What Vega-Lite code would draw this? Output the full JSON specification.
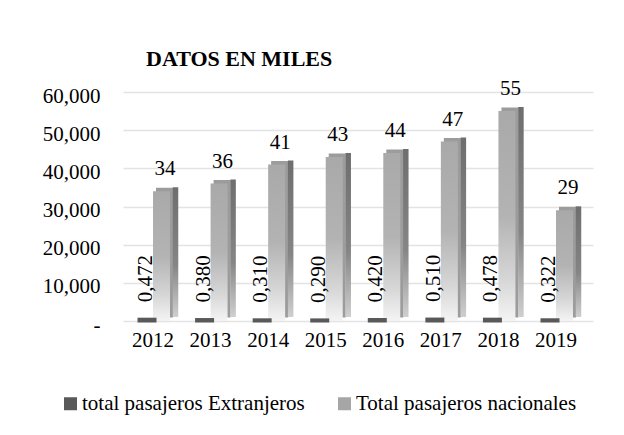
{
  "$schema": "https://vega.github.io/schema/vega-lite/v6.json",
  "autosize": {"type": "none"},
  "padding": {"left": 123, "top": 92, "right": 31, "bottom": 114},
  "width": 470,
  "height": 229,
  "background": "white",
  "config": {
    "font": "Times New Roman, Tinos, Liberation Serif, DejaVu Serif, serif",
    "view": {"stroke": null}
  },
  "title": {
    "text": "DATOS EN MILES",
    "anchor": "start",
    "frame": "group",
    "dx": 23,
    "dy": 35,
    "offset": 25,
    "baseline": "alphabetic",
    "font": "Times New Roman, Tinos, Liberation Serif, DejaVu Serif, serif",
    "fontSize": 22,
    "fontWeight": "bold",
    "color": "#000000"
  },
  "data": {
    "values": [
      {"anio": "2012", "serie": "total pasajeros Extranjeros", "valor": 472, "etiqueta": "0,472"},
      {"anio": "2013", "serie": "total pasajeros Extranjeros", "valor": 380, "etiqueta": "0,380"},
      {"anio": "2014", "serie": "total pasajeros Extranjeros", "valor": 310, "etiqueta": "0,310"},
      {"anio": "2015", "serie": "total pasajeros Extranjeros", "valor": 290, "etiqueta": "0,290"},
      {"anio": "2016", "serie": "total pasajeros Extranjeros", "valor": 420, "etiqueta": "0,420"},
      {"anio": "2017", "serie": "total pasajeros Extranjeros", "valor": 510, "etiqueta": "0,510"},
      {"anio": "2018", "serie": "total pasajeros Extranjeros", "valor": 478, "etiqueta": "0,478"},
      {"anio": "2019", "serie": "total pasajeros Extranjeros", "valor": 322, "etiqueta": "0,322"},
      {"anio": "2012", "serie": "Total pasajeros nacionales", "valor": 34000, "etiqueta": "34"},
      {"anio": "2013", "serie": "Total pasajeros nacionales", "valor": 36000, "etiqueta": "36"},
      {"anio": "2014", "serie": "Total pasajeros nacionales", "valor": 41000, "etiqueta": "41"},
      {"anio": "2015", "serie": "Total pasajeros nacionales", "valor": 43000, "etiqueta": "43"},
      {"anio": "2016", "serie": "Total pasajeros nacionales", "valor": 44000, "etiqueta": "44"},
      {"anio": "2017", "serie": "Total pasajeros nacionales", "valor": 47000, "etiqueta": "47"},
      {"anio": "2018", "serie": "Total pasajeros nacionales", "valor": 55000, "etiqueta": "55"},
      {"anio": "2019", "serie": "Total pasajeros nacionales", "valor": 29000, "etiqueta": "29"}
    ]
  },
  "encoding": {
    "x": {
      "field": "anio",
      "type": "ordinal",
      "title": null,
      "scale": {"paddingInner": 0, "paddingOuter": 0.082, "align": 0.13},
      "axis": {
        "labelAngle": 0,
        "labelFontSize": 21,
        "labelColor": "#000000",
        "labelPadding": 8,
        "ticks": false,
        "domain": false,
        "grid": false
      }
    },
    "y": {
      "field": "valor",
      "type": "quantitative",
      "title": null,
      "scale": {"domain": [0, 60000], "nice": false},
      "axis": {
        "values": [0, 10000, 20000, 30000, 40000, 50000, 60000],
        "labelExpr": "datum.value == 0 ? '-' : format(datum.value, ',')",
        "labelFontSize": 21,
        "labelColor": "#000000",
        "labelPadding": 23,
        "labelOffset": 4,
        "ticks": false,
        "domain": false,
        "grid": true,
        "gridColor": "#e3e3e3",
        "gridWidth": 1.5
      }
    }
  },
  "layer": [
    {
      "transform": [{"filter": "datum.serie == 'Total pasajeros nacionales'"}],
      "mark": {"type": "bar", "width": 17, "xOffset": 11.5, "yOffset": -3.5, "color": "#9c9c9c"},
      "encoding": {}
    },
    {
      "transform": [{"filter": "datum.serie == 'Total pasajeros nacionales'"}],
      "mark": {
        "type": "bar", "width": 5.5, "xOffset": 22.5, "yOffset": -4,
        "color": {
          "gradient": "linear", "x1": 0, "y1": 0, "x2": 0, "y2": 1,
          "stops": [
            {"offset": 0, "color": "#6e6e6e"},
            {"offset": 0.6, "color": "#858585"},
            {"offset": 1, "color": "#cfcfcf"}
          ]
        }
      },
      "encoding": {}
    },
    {
      "transform": [{"filter": "datum.serie == 'Total pasajeros nacionales'"}],
      "mark": {
        "type": "bar", "width": 17, "xOffset": 8.5,
        "color": {
          "gradient": "linear", "x1": 0, "y1": 0, "x2": 0, "y2": 1,
          "stops": [
            {"offset": 0, "color": "#a9a9a9"},
            {"offset": 0.5, "color": "#b3b3b3"},
            {"offset": 0.8, "color": "#d6d6d6"},
            {"offset": 1, "color": "#f4f4f4"}
          ]
        }
      },
      "encoding": {}
    },
    {
      "transform": [{"filter": "datum.serie == 'total pasajeros Extranjeros'"}],
      "mark": {"type": "bar", "width": 16, "xOffset": -6, "stroke": "#595959", "strokeWidth": 3},
      "encoding": {
        "color": {
          "field": "serie",
          "type": "nominal",
          "scale": {
            "domain": ["total pasajeros Extranjeros", "Total pasajeros nacionales"],
            "range": ["#595959", "#a6a6a6"]
          },
          "legend": {
            "title": null,
            "orient": "none",
            "direction": "horizontal",
            "legendX": -63,
            "legendY": 301,
            "symbolType": "square",
            "symbolSize": 169,
            "symbolStrokeWidth": 0,
            "labelFontSize": 21,
            "labelColor": "#000000",
            "labelOffset": 1,
            "columnPadding": 29,
            "labelLimit": 400
          }
        }
      }
    },
    {
      "transform": [{"filter": "datum.serie == 'Total pasajeros nacionales'"}],
      "mark": {"type": "text", "xOffset": 12, "yOffset": -16, "baseline": "alphabetic", "align": "center", "fontSize": 21, "color": "#000000"},
      "encoding": {"text": {"field": "etiqueta"}}
    },
    {
      "transform": [{"filter": "datum.serie == 'total pasajeros Extranjeros'"}],
      "mark": {"type": "text", "angle": 270, "xOffset": -7, "yOffset": -17, "baseline": "middle", "align": "left", "fontSize": 21, "color": "#000000"},
      "encoding": {"text": {"field": "etiqueta"}}
    }
  ]
}
